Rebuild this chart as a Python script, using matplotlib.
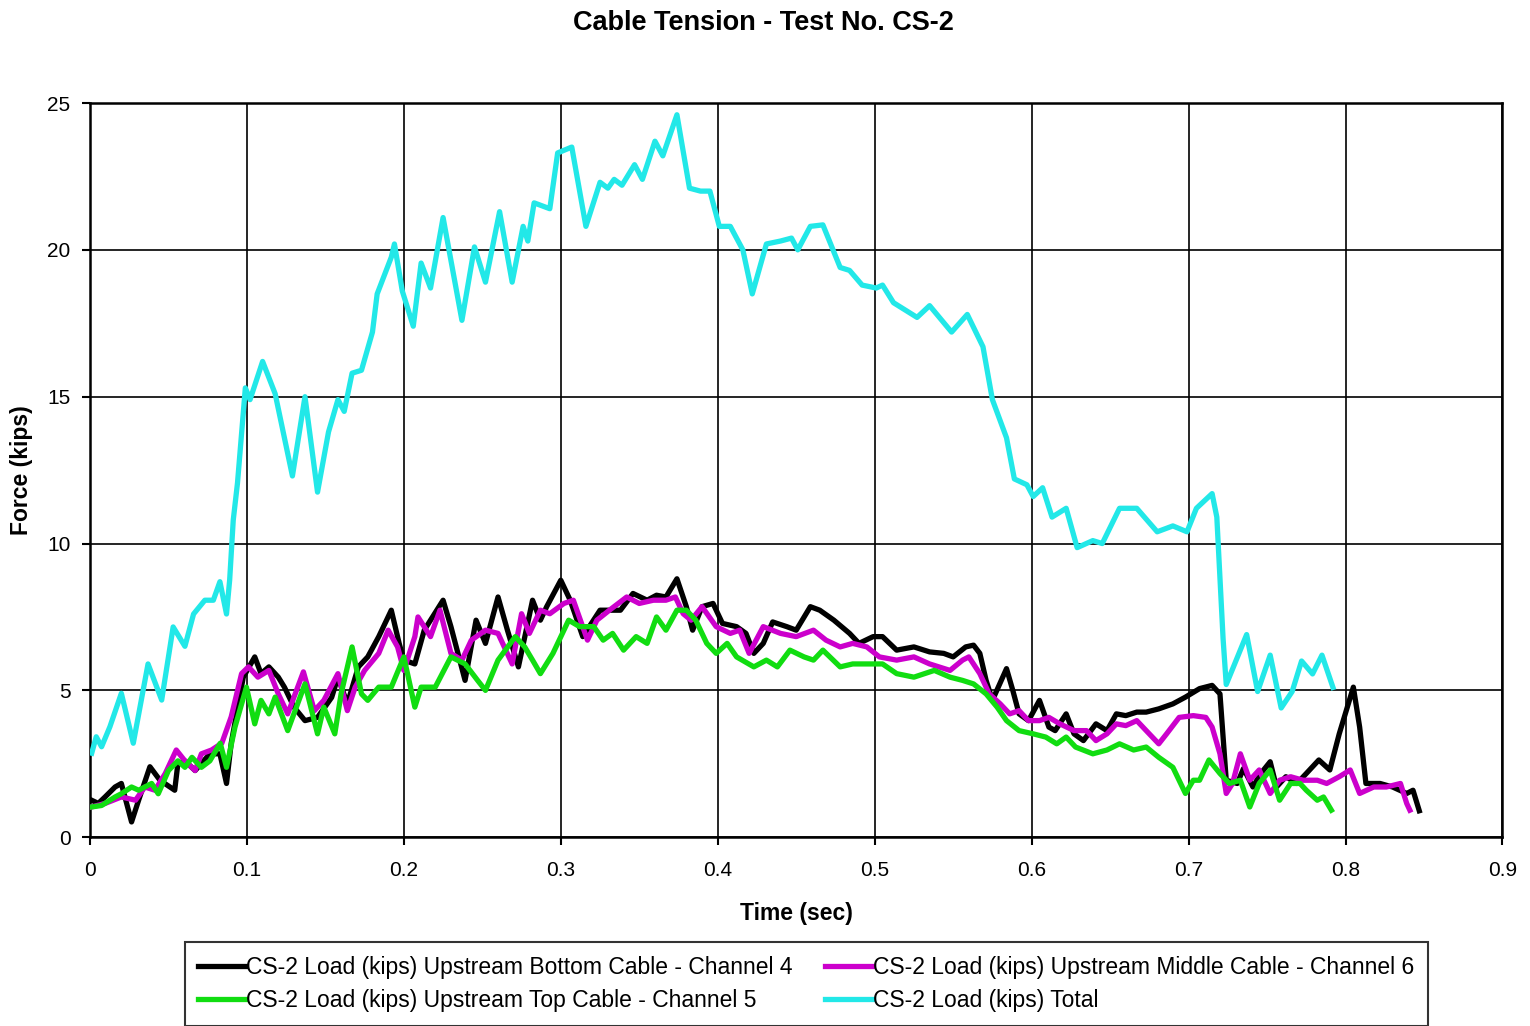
import matplotlib
matplotlib.use("Agg")
import matplotlib.pyplot as plt

plt.rcParams['font.family'] = ['Liberation Sans', 'DejaVu Sans']

# ---- data ----
t_ch4 = [0.001, 0.0053, 0.0096, 0.016, 0.02, 0.0265, 0.031, 0.0382, 0.0446, 0.054, 0.056, 0.0605, 0.067,
         0.0764, 0.0828, 0.087, 0.090, 0.0977, 0.105, 0.109, 0.114, 0.12, 0.124, 0.13, 0.137, 0.145, 0.154,
         0.158, 0.164, 0.171, 0.177, 0.184, 0.192, 0.197, 0.2, 0.207, 0.213, 0.225, 0.23, 0.239, 0.246, 0.252,
         0.26, 0.266, 0.273, 0.282, 0.287, 0.291, 0.3, 0.306, 0.314, 0.325, 0.338, 0.346, 0.355, 0.361, 0.367,
         0.374, 0.38, 0.384, 0.39, 0.397, 0.403, 0.412, 0.418, 0.423, 0.429, 0.435, 0.444, 0.45, 0.459, 0.465,
         0.474, 0.484, 0.49, 0.499, 0.505, 0.514, 0.525, 0.535, 0.544, 0.55, 0.558, 0.563, 0.567, 0.571, 0.575,
         0.584, 0.588, 0.592, 0.598, 0.605, 0.611, 0.615, 0.622, 0.627, 0.633, 0.641, 0.648, 0.654, 0.66, 0.667,
         0.673, 0.681, 0.69, 0.698, 0.707, 0.715, 0.72, 0.722, 0.724, 0.731, 0.735, 0.741, 0.746, 0.752, 0.756,
         0.762, 0.769, 0.775, 0.783, 0.79, 0.796, 0.805, 0.809, 0.813, 0.822, 0.83, 0.839, 0.843, 0.847]
f_ch4 = [1.26, 1.15, 1.37, 1.71, 1.83, 0.52, 1.26, 2.4, 1.94, 1.6, 2.5, 2.6, 2.27,
         2.84, 2.84, 1.83, 3.2, 5.45, 6.14, 5.57, 5.8, 5.45, 5.1, 4.43, 3.97, 4.08, 4.76,
         5.45, 4.54, 5.8, 6.14, 6.83, 7.73, 6.6, 6.03, 5.9, 7.05, 8.07, 7.17, 5.34, 7.39, 6.6,
         8.18, 7.05, 5.8, 8.07, 7.39, 7.85, 8.75, 8.07, 6.83, 7.73, 7.73, 8.3, 8.07, 8.24, 8.18,
         8.8, 7.85, 7.05, 7.85, 7.96, 7.28, 7.17, 6.94, 6.26, 6.6, 7.33, 7.17, 7.05, 7.85, 7.73,
         7.39, 6.94, 6.6, 6.83, 6.83, 6.37, 6.48, 6.31, 6.26, 6.14, 6.48, 6.54, 6.26, 5.34, 4.66,
         5.74, 5.0, 4.2, 3.97, 4.66, 3.75, 3.63, 4.2, 3.52, 3.29, 3.86, 3.63, 4.2, 4.14, 4.26,
         4.26, 4.37, 4.54, 4.77, 5.06, 5.17, 4.88, 3.41, 1.94, 1.83, 2.34, 1.71, 2.17, 2.57, 1.71,
         2.06, 1.83, 2.17, 2.63, 2.29, 3.52, 5.11, 3.75, 1.83, 1.83, 1.71, 1.49, 1.6, 0.9]

t_ch6 = [0.001, 0.0096, 0.02, 0.029, 0.035, 0.0414, 0.048, 0.055, 0.0605, 0.067, 0.071, 0.0775, 0.084, 0.09,
         0.0966, 0.101, 0.107, 0.114, 0.12, 0.126, 0.136, 0.143, 0.149, 0.158, 0.164, 0.169, 0.175, 0.184,
         0.19, 0.196, 0.2, 0.207, 0.209, 0.217, 0.223, 0.23, 0.237, 0.243, 0.252, 0.26, 0.269, 0.275, 0.28,
         0.287, 0.293, 0.302, 0.308, 0.317, 0.323, 0.331, 0.342, 0.35, 0.359, 0.367, 0.373, 0.378, 0.383,
         0.39, 0.399, 0.408, 0.414, 0.42, 0.429, 0.44, 0.45, 0.461, 0.469, 0.478, 0.486, 0.495, 0.503, 0.514,
         0.525, 0.535, 0.548, 0.556, 0.56, 0.567, 0.573, 0.58, 0.586, 0.592, 0.598, 0.605, 0.611, 0.618, 0.627,
         0.635, 0.641, 0.648, 0.654, 0.66, 0.667, 0.673, 0.681, 0.686, 0.694, 0.703, 0.711, 0.715, 0.72, 0.724,
         0.728, 0.733, 0.739, 0.745, 0.752, 0.758, 0.765, 0.773, 0.782, 0.788, 0.796, 0.803, 0.809, 0.818,
         0.826, 0.835, 0.839, 0.841]
f_ch6 = [1.03, 1.15, 1.37, 1.26, 1.71, 1.6, 2.17, 2.97, 2.6, 2.27, 2.84, 2.97, 3.2, 4.1,
         5.57, 5.8, 5.45, 5.68, 4.88, 4.2, 5.63, 4.31, 4.66, 5.57, 4.31, 5.11, 5.68, 6.26,
         7.05, 6.48, 5.68, 6.83, 7.5, 6.83, 7.73, 6.26, 6.03, 6.71, 7.05, 6.94, 5.9, 7.61, 6.94,
         7.73, 7.61, 7.96, 8.07, 6.71, 7.39, 7.73, 8.18, 7.96, 8.07, 8.07, 8.18, 7.61, 7.39,
         7.85, 7.17, 6.94, 7.05, 6.26, 7.17, 6.94, 6.83, 7.05, 6.71, 6.48, 6.6, 6.48, 6.14, 6.03,
         6.14, 5.9, 5.68, 6.03, 6.14, 5.57, 4.88, 4.54, 4.2, 4.31, 3.97, 3.97, 4.08, 3.86, 3.63,
         3.63, 3.29, 3.52, 3.86, 3.8, 3.97, 3.63, 3.18, 3.52, 4.08, 4.14, 4.08, 3.75, 2.84, 1.49,
         1.83, 2.84, 1.94, 2.29, 1.49, 1.94, 2.06, 1.94, 1.94, 1.83, 2.06, 2.29, 1.49, 1.71,
         1.71, 1.83, 1.15, 0.92]

t_ch5 = [0.001, 0.0074, 0.016, 0.02, 0.0265, 0.031, 0.0393, 0.0435, 0.05, 0.056, 0.0605, 0.065, 0.071, 0.0764,
         0.083, 0.087, 0.0924, 0.0997, 0.105, 0.109, 0.114, 0.118, 0.126, 0.137, 0.145, 0.149, 0.156, 0.16,
         0.167, 0.173, 0.177, 0.184, 0.192, 0.2, 0.207, 0.211, 0.22, 0.23, 0.239, 0.247, 0.252, 0.26, 0.271,
         0.277, 0.282, 0.287, 0.295, 0.305, 0.312, 0.321, 0.327, 0.333, 0.34, 0.348, 0.355, 0.361, 0.367,
         0.374, 0.38, 0.386, 0.393, 0.399, 0.406, 0.412, 0.423, 0.431, 0.438, 0.446, 0.455, 0.461, 0.467,
         0.478, 0.486, 0.497, 0.505, 0.514, 0.525, 0.538, 0.548, 0.556, 0.563, 0.571, 0.578, 0.584, 0.592,
         0.601, 0.609, 0.616, 0.622, 0.628, 0.639, 0.648, 0.656, 0.665, 0.673, 0.681, 0.69, 0.698, 0.703,
         0.707, 0.713, 0.72, 0.726, 0.733, 0.739, 0.745, 0.752, 0.758, 0.765, 0.771, 0.775, 0.782, 0.786, 0.791]
f_ch5 = [1.03, 1.08, 1.37, 1.48, 1.71, 1.6, 1.83, 1.48, 2.27, 2.6, 2.38, 2.72, 2.38, 2.6,
         3.2, 2.38, 3.75, 5.11, 3.86, 4.66, 4.2, 4.77, 3.63, 5.22, 3.52, 4.43, 3.52, 4.88,
         6.48, 4.88, 4.66, 5.11, 5.11, 6.14, 4.43, 5.11, 5.11, 6.14, 5.9, 5.34, 5.0, 6.03, 6.83,
         6.48, 6.03, 5.57, 6.26, 7.39, 7.17, 7.17, 6.71, 6.94, 6.37, 6.83, 6.6, 7.5, 7.05,
         7.73, 7.73, 7.39, 6.6, 6.26, 6.6, 6.14, 5.8, 6.03, 5.8, 6.37, 6.14, 6.03, 6.37,
         5.8, 5.9, 5.9, 5.9, 5.57, 5.45, 5.68, 5.45, 5.34, 5.22, 4.88, 4.43, 3.97, 3.63,
         3.52, 3.41, 3.18, 3.41, 3.07, 2.84, 2.97, 3.18, 2.97, 3.07, 2.72, 2.38, 1.49, 1.94,
         1.94, 2.63, 2.17, 1.83, 1.94, 1.03, 1.83, 2.29, 1.26, 1.83, 1.83, 1.6, 1.26, 1.37, 0.92]

t_total = [0.0011, 0.004, 0.0074, 0.0127, 0.02, 0.0276, 0.037, 0.0457, 0.053, 0.0605, 0.066, 0.0732, 0.0786,
           0.0828, 0.087, 0.089, 0.0913, 0.094, 0.099, 0.102, 0.11, 0.118, 0.129, 0.137, 0.145, 0.152, 0.158,
           0.162, 0.167, 0.173, 0.18, 0.183, 0.192, 0.194, 0.199, 0.206, 0.211, 0.217, 0.225, 0.237, 0.245,
           0.252, 0.261, 0.269, 0.276, 0.279, 0.283, 0.293, 0.298, 0.307, 0.316, 0.325, 0.33, 0.334, 0.339,
           0.347, 0.352, 0.36, 0.365, 0.374, 0.382, 0.389, 0.395, 0.401, 0.408, 0.416, 0.422, 0.431, 0.44,
           0.447, 0.451, 0.459, 0.467, 0.478, 0.484, 0.492, 0.501, 0.505, 0.512, 0.527, 0.535, 0.549, 0.559,
           0.569, 0.575, 0.584, 0.589, 0.597, 0.601, 0.607, 0.613, 0.622, 0.629, 0.639, 0.645, 0.656, 0.667,
           0.68, 0.69, 0.699, 0.705, 0.715, 0.718, 0.722, 0.724, 0.737, 0.744, 0.752, 0.759, 0.766, 0.772,
           0.779, 0.785, 0.792]
f_total = [2.86, 3.42, 3.08, 3.76, 4.9, 3.2, 5.9, 4.67, 7.16, 6.5, 7.6, 8.07, 8.07,
           8.7, 7.6, 8.75, 10.8, 12.06, 15.3, 14.9, 16.2, 15.1, 12.3, 15.0, 11.75, 13.8, 14.9,
           14.5, 15.8, 15.9, 17.2, 18.5, 19.75, 20.2, 18.6, 17.4, 19.55, 18.7, 21.1, 17.6, 20.1,
           18.9, 21.3, 18.9, 20.8, 20.3, 21.6, 21.4, 23.3, 23.5, 20.8, 22.3, 22.1, 22.4, 22.2,
           22.9, 22.4, 23.7, 23.2, 24.6, 22.1, 22.0, 22.0, 20.8, 20.8, 20.0, 18.5, 20.2, 20.3,
           20.4, 20.0, 20.8, 20.85, 19.4, 19.3, 18.8, 18.7, 18.8, 18.2, 17.7, 18.1, 17.2, 17.8,
           16.7, 14.9, 13.6, 12.2, 12.0, 11.6, 11.9, 10.9, 11.2, 9.86, 10.1, 10.0, 11.2, 11.2,
           10.4, 10.6, 10.4, 11.2, 11.7, 10.9, 6.75, 5.2, 6.9, 4.96, 6.2, 4.4, 4.96, 6.0,
           5.56, 6.2, 5.1]

labels = ["CS-2 Load (kips) Upstream Bottom Cable - Channel 4",
          "CS-2 Load (kips) Upstream Top Cable - Channel 5",
          "CS-2 Load (kips) Upstream Middle Cable - Channel 6",
          "CS-2 Load (kips) Total"]
x_ticks = [0, 0.1, 0.2, 0.3, 0.4, 0.5, 0.6, 0.7, 0.8, 0.9]
x_ticklabels = ["0", "0.1", "0.2", "0.3", "0.4", "0.5", "0.6", "0.7", "0.8", "0.9"]
y_ticks = [0, 5, 10, 15, 20, 25]

# ---- figure ----
fig = plt.figure(figsize=(15.3, 10.26), dpi=100)
ax = fig.add_axes([0.0588, 0.184, 0.9232, 0.7156])

lw = 3.8
l4, = ax.plot(t_ch4, f_ch4, color='black', lw=lw, zorder=3, solid_joinstyle='round')
l6, = ax.plot(t_ch6, f_ch6, color='#cc00cc', lw=lw, zorder=4, solid_joinstyle='round')
l5, = ax.plot(t_ch5, f_ch5, color='#11dd11', lw=lw, zorder=5, solid_joinstyle='round')
lt, = ax.plot(t_total, f_total, color='#22e8e8', lw=lw, zorder=6, solid_joinstyle='round')

ax.set_xlim(0, 0.9)
ax.set_ylim(0, 25)
ax.set_xticks(x_ticks)
ax.set_xticklabels(x_ticklabels)
ax.set_yticks(y_ticks)
ax.grid(True, color='black', lw=1.2)
ax.set_axisbelow(True)
for s in ax.spines.values():
    s.set_linewidth(1.8)
ax.tick_params(axis='both', labelsize=15, width=1.5, length=6, direction='out')
ax.tick_params(axis='x', pad=11)
ax.tick_params(axis='y', pad=8)

ax.set_xlabel("Time (sec)", fontsize=16.5, fontweight='bold', labelpad=16)
ax.set_ylabel("Force (kips)", fontsize=16.5, fontweight='bold', labelpad=10)
fig.suptitle("Cable Tension - Test No. CS-2", fontsize=19.5, fontweight='bold', x=0.499, y=0.99)

leg = fig.legend([l4, l5, l6, lt], labels, ncol=2, loc='lower center',
                 bbox_to_anchor=(0.527, -0.011), fontsize=16.5, frameon=True, fancybox=False,
                 edgecolor='black', handlelength=2.1, handletextpad=0.0, columnspacing=1.4,
                 borderpad=0.6, labelspacing=0.45)
leg.get_frame().set_linewidth(1.5)

fig.savefig("out.png", dpi=100)
